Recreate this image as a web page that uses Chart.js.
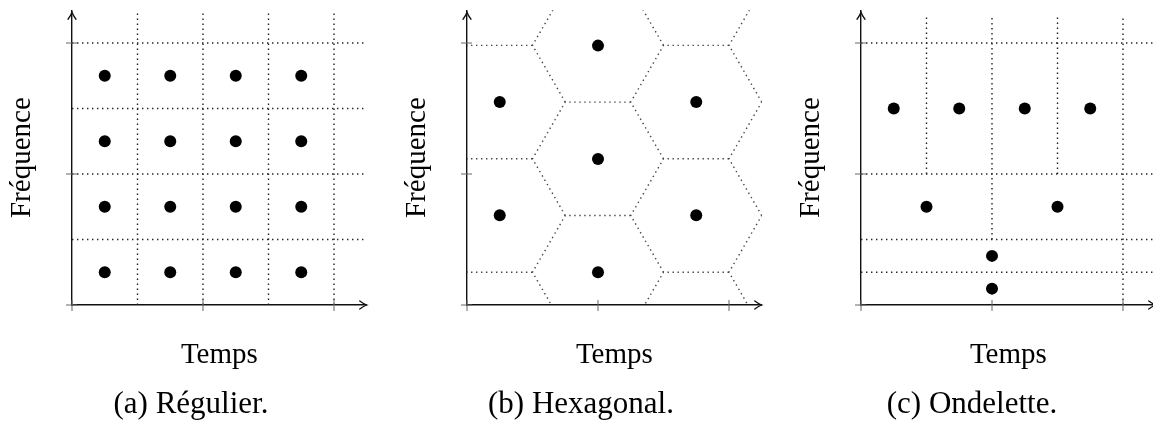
<!DOCTYPE html>
<html lang="fr">
<head>
<meta charset="utf-8">
<title>Pavages temps-fréquence</title>
<script src="https://cdn.jsdelivr.net/npm/chart.js@4.4.1/dist/chart.umd.min.js"></script>
<style>
  html, body { margin: 0; padding: 0; background: #fff; }
  body { width: 1153px; height: 421px; position: relative; overflow: hidden; }
  .panneau { position: absolute; top: 0; width: 384px; height: 421px; }
  .legende {
    position: absolute; top: 386px; width: 260px; text-align: center;
    font: 31px "Liberation Serif", "Times New Roman", serif; line-height: 34px; color: #000;
  }
</style>
</head>
<body>
<div class="panneau" style="left:0px"><canvas id="graphique-regulier" width="384" height="421"></canvas></div>
<div class="panneau" style="left:395px"><canvas id="graphique-hexagonal" width="384" height="421"></canvas></div>
<div class="panneau" style="left:789px"><canvas id="graphique-ondelette" width="384" height="421"></canvas></div>
<div class="legende" style="left:61px">(a) Régulier.</div>
<div class="legende" style="left:451px">(b) Hexagonal.</div>
<div class="legende" style="left:842px">(c) Ondelette.</div>
<script>
// (a) pavage regulier : centres des atomes
const regulierX = [0.5, 1.5, 2.5, 3.5];
const regulierY = [0.5, 1.5, 2.5, 3.5];
const grilleRegulierX = [1, 2, 3, 4];
const grilleRegulierY = [1, 2, 3, 4];

// (b) pavage hexagonal : centres visibles
const hexX = [0.5, 2, 3.5, 2, 0.5, 3.5, 2];
const hexY = [3.1, 3.96, 3.1, 2.23, 1.37, 1.37, 0.5];
const rayonHex = 1;

// (c) pavage ondelette
const ondeletteX = [0.5, 1.5, 2.5, 3.5, 1, 3, 2, 2];
const ondeletteY = [3, 3, 3, 3, 1.5, 1.5, 0.75, 0.25];
const ondeletteLignesY = [4, 2, 1, 0.5];
const ondeletteColX = [1, 2, 3, 4];
const ondeletteColBas = [2, 1, 2, 0];
const ondeletteColHaut = 4.42;

// graduations des axes et bornes
const graduations = [0, 2, 4];
const axeMax = 4.5;

const police = '"Liberation Serif", "Times New Roman", serif';

// jeu de points noirs
function atomes(xs, ys) {
  return {
    data: xs.map((x, i) => ({ x: x, y: ys[i] })),
    showLine: false,
    pointRadius: 6,
    pointBackgroundColor: "#000",
    pointBorderWidth: 0,
  };
}

// trait pointille (une polyligne)
function pointille(pts, couleur) {
  return {
    data: pts,
    showLine: true,
    borderColor: couleur,
    borderWidth: 1.4,
    borderDash: [1.4, 3.6],
    pointRadius: 0,
    fill: false,
  };
}

// graduations qui traversent les axes + fleches au bout
const axesFleches = {
  id: "axesFleches",
  afterDatasetsDraw(chart) {
    const { ctx, scales: { x, y } } = chart;
    const x0 = x.getPixelForValue(0);
    const y0 = y.getPixelForValue(0);
    ctx.save();
    ctx.strokeStyle = "#666";
    ctx.lineWidth = 1;
    graduations.forEach((v) => {
      const px = x.getPixelForValue(v);
      const py = y.getPixelForValue(v);
      ctx.beginPath();
      ctx.moveTo(px, y0 - 5);
      ctx.lineTo(px, y0 + 6);
      ctx.stroke();
      ctx.beginPath();
      ctx.moveTo(x0 - 6, py);
      ctx.lineTo(x0 + 5, py);
      ctx.stroke();
    });
    // fleches
    ctx.strokeStyle = "#111";
    ctx.lineWidth = 1.3;
    ctx.lineCap = "round";
    const xt = x.getPixelForValue(axeMax);
    ctx.beginPath();
    ctx.moveTo(xt - 7, y0 - 4);
    ctx.quadraticCurveTo(xt - 3, y0 - 1, xt, y0);
    ctx.quadraticCurveTo(xt - 3, y0 + 1, xt - 7, y0 + 4);
    ctx.stroke();
    const yt = y.getPixelForValue(axeMax) + 2;
    ctx.beginPath();
    ctx.moveTo(x0 - 4, yt + 7);
    ctx.quadraticCurveTo(x0 - 1, yt + 3, x0, yt);
    ctx.quadraticCurveTo(x0 + 1, yt + 3, x0 + 4, yt + 7);
    ctx.stroke();
    ctx.restore();
  },
};

function optionsPanneau() {
  const titre = (texte) => ({
    display: true,
    text: texte,
    color: "#000",
    padding: 0,
    font: { family: police, size: 29, lineHeight: 1 },
  });
  const bord = { display: true, color: "#111", width: 1.4 };
  return {
    responsive: false,
    animation: false,
    events: [],
    layout: { padding: { left: 7.5, right: 17.25, top: 10.25, bottom: 51.5 } },
    plugins: { legend: { display: false }, tooltip: { enabled: false } },
    scales: {
      x: {
        type: "linear", min: 0, max: axeMax,
        ticks: { display: false }, grid: { display: false },
        border: bord, title: titre("Temps"),
        afterFit: (s) => { s.height = 64.5; },
      },
      y: {
        type: "linear", min: 0, max: axeMax,
        ticks: { display: false }, grid: { display: false },
        border: bord, title: titre("Fréquence"),
        afterFit: (s) => { s.width = 64.5; },
      },
    },
  };
}

// ---- (a) regulier
const jeuxRegulier = [];
const ptsRegulierX = [];
const ptsRegulierY = [];
regulierY.forEach((yv) => regulierX.forEach((xv) => { ptsRegulierX.push(xv); ptsRegulierY.push(yv); }));
jeuxRegulier.push(atomes(ptsRegulierX, ptsRegulierY));
grilleRegulierX.forEach((g) => jeuxRegulier.push(pointille([{ x: g, y: 0 }, { x: g, y: axeMax }], "#222")));
grilleRegulierY.forEach((g) => jeuxRegulier.push(pointille([{ x: 0, y: g }, { x: axeMax, y: g }], "#222")));

new Chart(document.querySelector("#graphique-regulier"), {
  type: "scatter",
  data: { datasets: jeuxRegulier },
  options: optionsPanneau(),
  plugins: [axesFleches],
});

// ---- (b) hexagonal : chaque cellule trace son bord haut et ses deux bords gauches
const jeuxHex = [atomes(hexX, hexY)];
const h = (rayonHex * Math.sqrt(3)) / 2;
const baseX = hexX[6];
const baseY = hexY[6];
for (let c = -2; c <= 2; c++) {
  const cx = baseX + 1.5 * rayonHex * c;
  const decal = Math.abs(c) % 2 ? h : 0;
  for (let k = -2; k <= 3; k++) {
    const cy = baseY + decal + 2 * h * k;
    jeuxHex.push(pointille([
      { x: cx - rayonHex / 2, y: cy - h },
      { x: cx - rayonHex, y: cy },
      { x: cx - rayonHex / 2, y: cy + h },
      { x: cx + rayonHex / 2, y: cy + h },
    ], "#444"));
  }
}

new Chart(document.querySelector("#graphique-hexagonal"), {
  type: "scatter",
  data: { datasets: jeuxHex },
  options: optionsPanneau(),
  plugins: [axesFleches],
});

// ---- (c) ondelette
const jeuxOndelette = [atomes(ondeletteX, ondeletteY)];
ondeletteLignesY.forEach((g) => jeuxOndelette.push(pointille([{ x: 0, y: g }, { x: axeMax, y: g }], "#222")));
ondeletteColX.forEach((g, i) => jeuxOndelette.push(pointille([{ x: g, y: ondeletteColBas[i] }, { x: g, y: ondeletteColHaut }], "#222")));

new Chart(document.querySelector("#graphique-ondelette"), {
  type: "scatter",
  data: { datasets: jeuxOndelette },
  options: optionsPanneau(),
  plugins: [axesFleches],
});
</script>
</body>
</html>
